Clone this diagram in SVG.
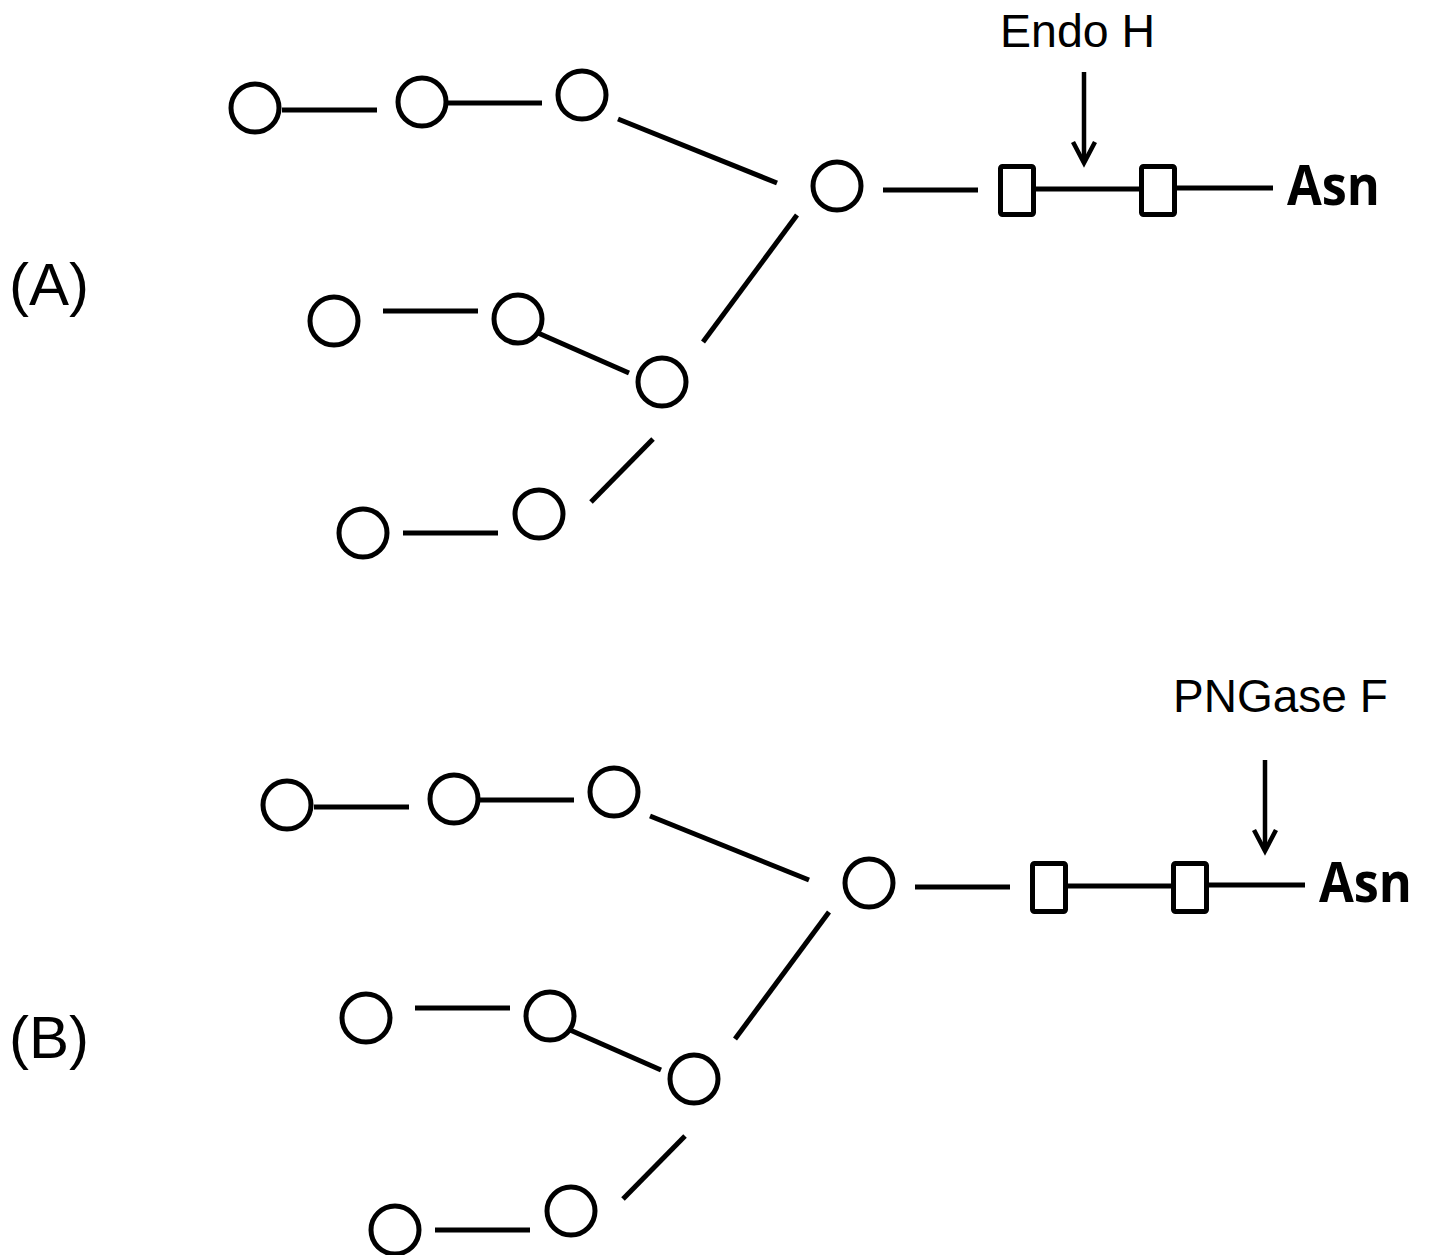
<svg xmlns="http://www.w3.org/2000/svg" width="1430" height="1255" viewBox="0 0 1430 1255">
<style>
.n{fill:#fff;stroke:#000;stroke-width:5}
.e{stroke:#000;stroke-width:5;fill:none}
.ar{stroke:#000;stroke-width:4.5;fill:none}
.lbl{font-family:"Liberation Sans",Arial,sans-serif;fill:#000}
.asn{font-family:"Open Sans","Noto Sans",sans-serif;font-weight:bold;font-size:55px;fill:#000}
</style>
<rect width="1430" height="1255" fill="#fff"/>
<defs>
<g id="tree">
<g id="connectors-tpl">
<line class="e" x1="282" y1="110" x2="377" y2="110"/>
<line class="e" x1="448" y1="103" x2="542" y2="103"/>
<line class="e" x1="618" y1="119" x2="777" y2="183"/>
<line class="e" x1="883" y1="190" x2="978" y2="190"/>
<line class="e" x1="1036" y1="189" x2="1139" y2="189"/>
<line class="e" x1="1177" y1="188" x2="1273" y2="188"/>
<line class="e" x1="797" y1="215" x2="703" y2="342"/>
<line class="e" x1="383" y1="311" x2="478" y2="311"/>
<line class="e" x1="538" y1="333" x2="629" y2="373"/>
<line class="e" x1="653" y1="439" x2="591" y2="502"/>
<line class="e" x1="403" y1="533" x2="498" y2="533"/>
</g>
<circle class="n" cx="255" cy="108" r="24"/>
<circle class="n" cx="422" cy="102" r="24"/>
<circle class="n" cx="582" cy="95" r="24"/>
<circle class="n" cx="837" cy="186" r="24"/>
<circle class="n" cx="334" cy="321" r="24"/>
<circle class="n" cx="518" cy="319" r="24"/>
<circle class="n" cx="662" cy="382" r="24"/>
<circle class="n" cx="539" cy="514" r="24"/>
<circle class="n" cx="363" cy="533" r="24"/>
<rect class="n" x="1000.5" y="166.5" width="33" height="48" rx="2"/>
<rect class="n" x="1141.5" y="166.5" width="33" height="48" rx="2"/>
<text class="asn" x="1287" y="205" textLength="93" lengthAdjust="spacingAndGlyphs">Asn</text>
</g>
</defs>
<g id="panelA">
<use id="glycanA" href="#tree"/>
<text id="labelA" class="lbl" x="9" y="305" font-size="60">(A)</text>
<g id="endoH">
<text class="lbl" x="1000" y="47" font-size="46.5">Endo H</text>
</g>
</g>
<g id="panelB">
<use id="glycanB" href="#tree" transform="translate(32,697)"/>
<text id="labelB" class="lbl" x="9" y="1058" font-size="60">(B)</text>
<g id="pngaseF">
<text class="lbl" x="1173" y="712" font-size="46">PNGase F</text>
</g>
</g>
<g id="connectors">
<line class="ar" x1="1084" y1="72" x2="1084" y2="160"/>
<polyline class="ar" points="1073,142 1084,163 1095,142"/>
<line class="ar" x1="1265" y1="760" x2="1265" y2="848"/>
<polyline class="ar" points="1254,830 1265,851 1276,830"/>
</g>
</svg>
